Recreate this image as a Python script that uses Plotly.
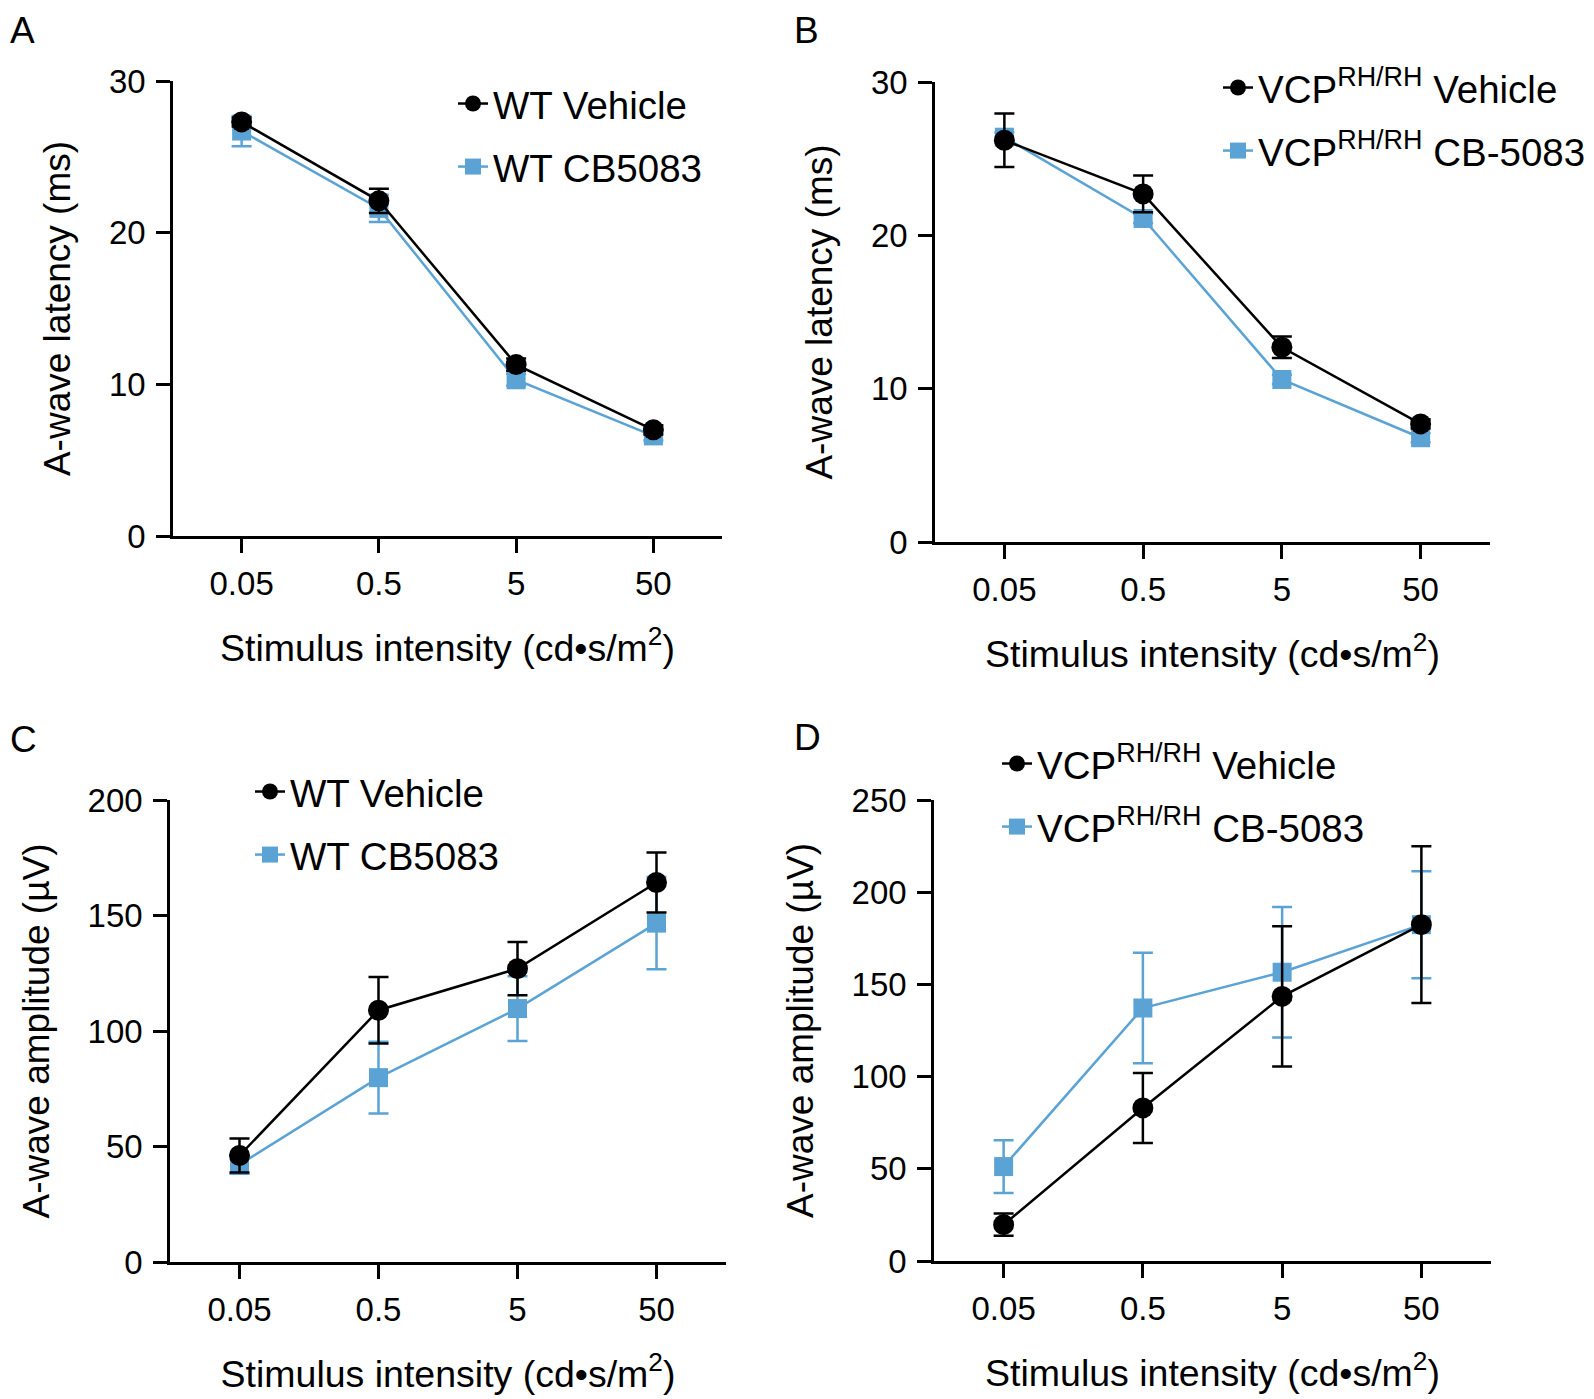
import plotly.graph_objects as go

# ---------------- data ----------------
intensity = ["0.05", "0.5", "5", "50"]

# Panel A: WT, A-wave latency (ms)
a_vehicle = [27.3, 22.1, 11.3, 7.0]
a_vehicle_err = [0.3, 0.8, 0.4, 0.3]
a_cb = [26.7, 21.6, 10.3, 6.6]
a_cb_err = [1.0, 0.9, 0.4, 0.3]

# Panel B: VCP RH/RH, A-wave latency (ms)
b_vehicle = [26.2, 22.7, 12.7, 7.7]
b_vehicle_err = [1.75, 1.2, 0.7, 0.3]
b_cb = [26.4, 21.1, 10.6, 6.8]
b_cb_err = [0.3, 0.3, 0.3, 0.3]

# Panel C: WT, A-wave amplitude (µV)
c_vehicle = [46.1, 109.0, 127.0, 164.3]
c_vehicle_err = [7.4, 14.4, 11.5, 13.0]
c_cb = [42.2, 79.8, 109.7, 146.7]
c_cb_err = [4.0, 15.5, 14.0, 20.0]

# Panel D: VCP RH/RH, A-wave amplitude (µV)
d_vehicle = [19.7, 83.0, 143.5, 182.4]
d_vehicle_err = [6.0, 19.0, 38.0, 42.5]
d_cb = [51.2, 137.2, 156.6, 182.4]
d_cb_err = [14.3, 30.0, 35.4, 29.0]

names_wt = ["WT Vehicle", "WT CB5083"]
names_vcp = ["VCP<sup>RH/RH</sup> Vehicle", "VCP<sup>RH/RH</sup> CB-5083"]

latency_ticks = [0, 10, 20, 30]
amp_c_ticks = [0, 50, 100, 150, 200]
amp_d_ticks = [0, 50, 100, 150, 200, 250]

# ---------------- style ----------------
W, H = 1594, 1399
OFFX, OFFY = 6, 8  # page body margin offset
BLACK = "#000000"
BLUE = "#5BA3D5"
FONT = "Liberation Sans, Arial, Helvetica, sans-serif"
LW = 2.5

fig = go.Figure()

panels = [
    ("x", "y", "legend", a_vehicle, a_vehicle_err, a_cb, a_cb_err, names_wt),
    ("x2", "y2", "legend2", b_vehicle, b_vehicle_err, b_cb, b_cb_err, names_vcp),
    ("x3", "y3", "legend3", c_vehicle, c_vehicle_err, c_cb, c_cb_err, names_wt),
    ("x4", "y4", "legend4", d_vehicle, d_vehicle_err, d_cb, d_cb_err, names_vcp),
]

for i, (xa, ya, lg, veh, veh_err, cb, cb_err, nm) in enumerate(panels):
    fig.add_trace(go.Scatter(
        x=intensity, y=cb, xaxis=xa, yaxis=ya, name=nm[1], legend=lg,
        legendgroup=f"cb{i}", legendrank=2,
        mode="lines+markers",
        line=dict(color=BLUE, width=LW),
        marker=dict(symbol="square", size=19, color=BLUE),
        error_y=dict(type="data", array=cb_err, visible=True, color=BLUE,
                     thickness=LW, width=10),
    ))
    fig.add_trace(go.Scatter(
        x=intensity, y=veh, xaxis=xa, yaxis=ya, name=nm[0], legend=lg,
        legendgroup=f"veh{i}", legendrank=1,
        mode="lines+markers",
        line=dict(color=BLACK, width=LW),
        marker=dict(symbol="circle", size=21, color=BLACK),
        error_y=dict(type="data", array=veh_err, visible=True, color=BLACK,
                     thickness=LW, width=10),
    ))

def px_x(p):
    return (p - OFFX) / W

def px_y(p):
    return 1 - (p - OFFY) / H

xtitle = "Stimulus intensity (cd•s/m<sup>2</sup>)"

def xaxis(dom, anchor):
    return dict(
        domain=dom, anchor=anchor, type="category", range=[-0.5, 3.5],
        categoryorder="array", categoryarray=intensity,
        showline=True, linecolor=BLACK, linewidth=LW,
        ticks="outside", ticklen=14, tickwidth=LW, tickcolor=BLACK,
        showgrid=False, zeroline=False, automargin=False,
        tickfont=dict(size=33, color=BLACK, family=FONT),
        ticklabelstandoff=3,
        title=dict(text=xtitle, font=dict(size=37.5, color=BLACK, family=FONT),
                   standoff=34),
    )

def yaxis(dom, anchor, rng, ticks, title):
    return dict(
        domain=dom, anchor=anchor, range=rng, tickvals=ticks,
        ticktext=[str(t) for t in ticks],
        showline=True, linecolor=BLACK, linewidth=LW,
        ticks="outside", ticklen=14, tickwidth=LW, tickcolor=BLACK,
        showgrid=False, zeroline=False, automargin=False,
        tickfont=dict(size=33, color=BLACK, family=FONT),
        ticklabelstandoff=4,
        title=dict(text=title, font=dict(size=37, color=BLACK, family=FONT),
                   standoff=27),
    )

def legend(xl, yt):
    # xl, yt in figure pixels
    return dict(
        x=xl / W, y=1 - yt / H, xanchor="left", yanchor="top",
        bgcolor="rgba(0,0,0,0)", borderwidth=0,
        font=dict(size=38.5, color=BLACK, family=FONT),
        tracegroupgap=10, itemsizing="trace",
    )

fig.update_layout(
    width=W, height=H, autosize=False,
    margin=dict(l=0, r=0, t=0, b=0, autoexpand=False),
    paper_bgcolor="white", plot_bgcolor="white",
    font=dict(family=FONT, color=BLACK),
    showlegend=True,
    xaxis=xaxis([px_x(171), px_x(720)], "y"),
    yaxis=yaxis([px_y(536), px_y(81)], "x", [0, 30], latency_ticks, "A-wave latency (ms)"),
    xaxis2=xaxis([px_x(933), px_x(1488)], "y2"),
    yaxis2=yaxis([px_y(542), px_y(82)], "x2", [0, 30], latency_ticks, "A-wave latency (ms)"),
    xaxis3=xaxis([px_x(168), px_x(724)], "y3"),
    yaxis3=yaxis([px_y(1262), px_y(800)], "x3", [0, 200], amp_c_ticks, "A-wave amplitude (µV)"),
    xaxis4=xaxis([px_x(932), px_x(1489)], "y4"),
    yaxis4=yaxis([px_y(1261), px_y(800)], "x4", [0, 250], amp_d_ticks, "A-wave amplitude (µV)"),
    legend=legend(445, 64),
    legend2=legend(1210, 48),
    legend3=legend(242, 752),
    legend4=legend(989, 724),
)

for letter, xp, yp, ya in [("A", 6, 8, "top"), ("B", 790, 8, "top"),
                           ("C", 6, 739, "middle"), ("D", 790, 737, "middle")]:
    fig.add_annotation(text=letter, x=px_x(xp), y=px_y(yp), xref="paper", yref="paper",
                       xanchor="left", yanchor=ya, showarrow=False,
                       font=dict(size=37, color=BLACK, family=FONT))

fig.write_html("out.html")
